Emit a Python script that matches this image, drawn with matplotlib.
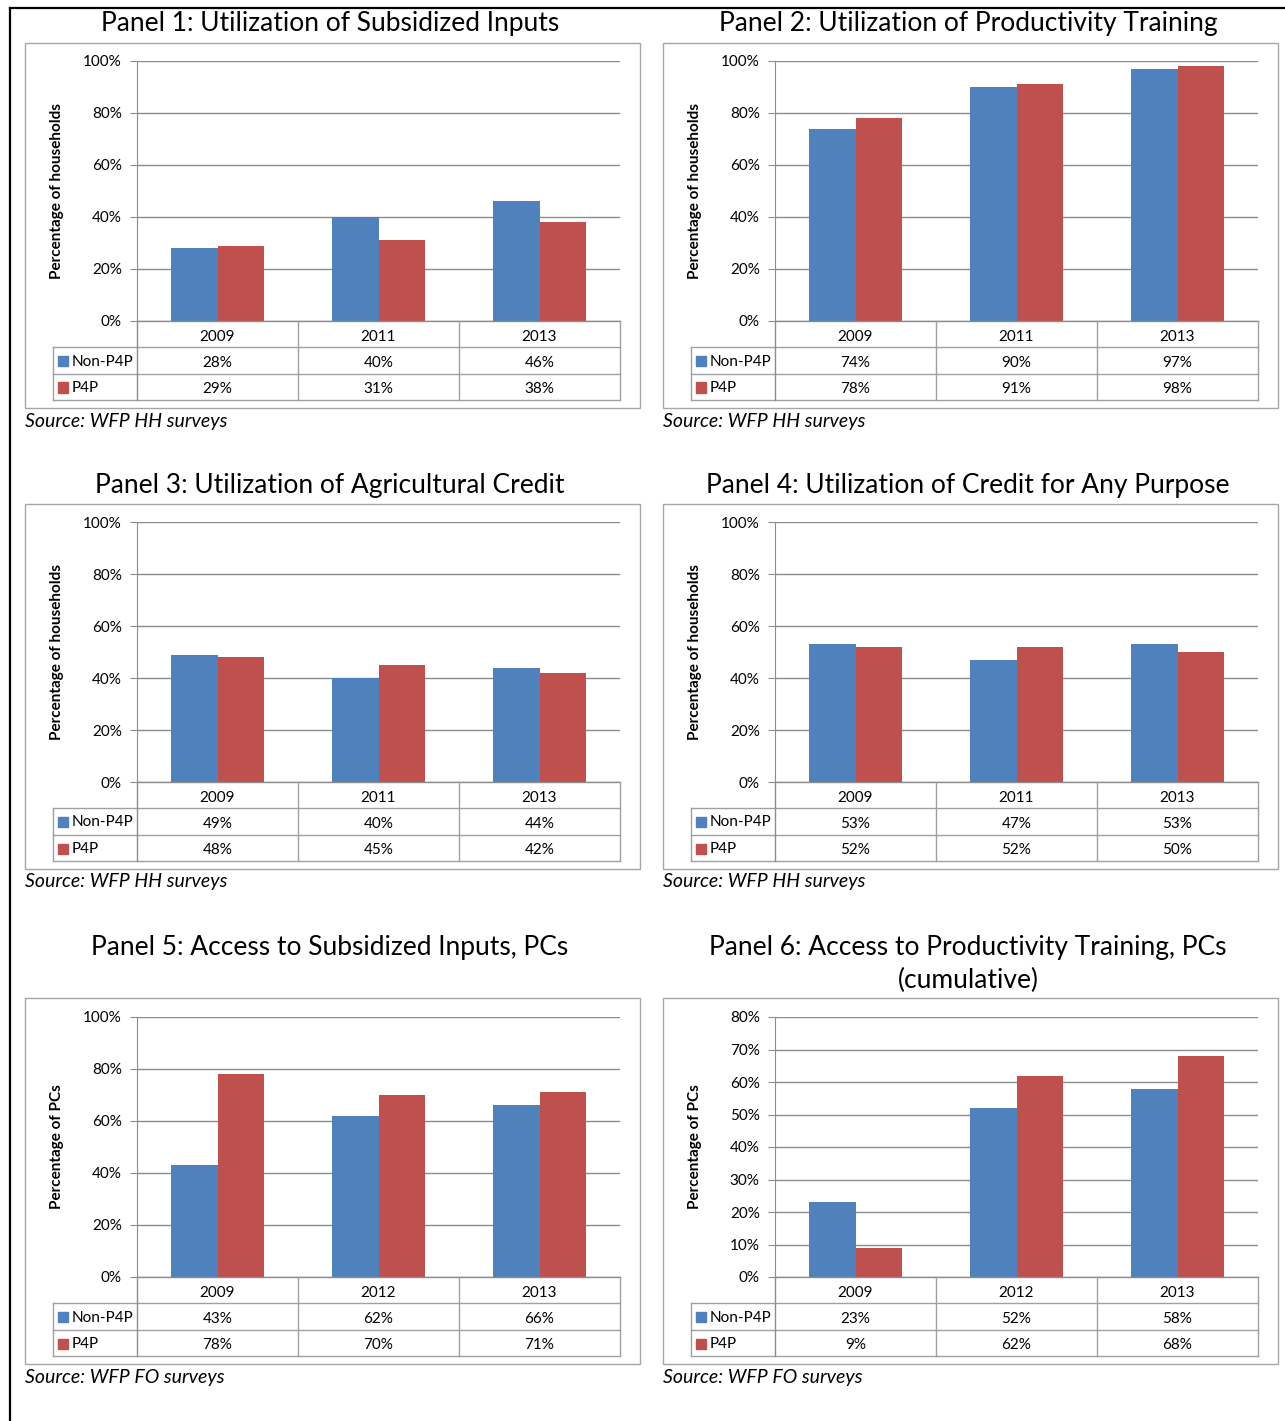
import matplotlib
matplotlib.use("Agg")
import matplotlib.pyplot as plt
from matplotlib.patches import Rectangle
from matplotlib.lines import Line2D

plt.rcParams["font.family"] = ["Lato", "DejaVu Sans"]

W, H = 1285, 1421

# panel data
titles = [
    "Panel 1: Utilization of Subsidized Inputs",
    "Panel 2: Utilization of Productivity Training",
    "Panel 3: Utilization of Agricultural Credit",
    "Panel 4: Utilization of Credit for Any Purpose",
    "Panel 5: Access to Subsidized Inputs, PCs",
    "Panel 6: Access to Productivity Training, PCs\n(cumulative)",
]
years_hh = ["2009", "2011", "2013"]
years_fo = ["2009", "2012", "2013"]
non_p4p = [
    [28, 40, 46],
    [74, 90, 97],
    [49, 40, 44],
    [53, 47, 53],
    [43, 62, 66],
    [23, 52, 58],
]
p4p = [
    [29, 31, 38],
    [78, 91, 98],
    [48, 45, 42],
    [52, 52, 50],
    [78, 70, 71],
    [9, 62, 68],
]
ylabels = ["Percentage of households"] * 4 + ["Percentage of PCs"] * 2
sources = ["Source: WFP HH surveys"] * 4 + ["Source: WFP FO surveys"] * 2
ymax = [100, 100, 100, 100, 100, 80]
ystep = [20, 20, 20, 20, 20, 10]
series_names = ["Non-P4P", "P4P"]

BLUE = "#4F81BD"
RED = "#C0504D"
GRID = "#8C8C8C"
TBL = "#A0A0A0"
BOX = "#A6A6A6"

fig = plt.figure(figsize=(W / 100, H / 100), dpi=100)


def fx(x):
    return x / W


def fy(y):
    return 1 - y / H


def px_axes(x0, y0, x1, y1):
    return fig.add_axes([fx(x0), fy(y1), (x1 - x0) / W, (y1 - y0) / H])


# outer frame (left and top edges)
fig.add_artist(Line2D([fx(10), fx(10)], [fy(8), fy(H)], color="black", lw=1.6))
fig.add_artist(Line2D([fx(10), fx(W)], [fy(8), fy(8)], color="black", lw=1.6))

col_x = [0, 638]
row_y = [0, 461, 956]
title_y = [24, 24, 485, 485, 947, 964]

for i in range(6):
    dx = col_x[i % 2]
    dy = row_y[i // 2]
    years = years_hh if i < 4 else years_fo

    # chart box
    box_top = 43 + dy if i < 4 else 998
    fig.add_artist(Rectangle((fx(25 + dx), fy(408 + dy)), 615 / W,
                             (408 + dy - box_top) / H, fill=False,
                             edgecolor=BOX, lw=1.0))

    # title
    fig.text(fx(330 + dx), fy(title_y[i]), titles[i], ha="center",
             va="center", fontsize=19, linespacing=1.4)

    # source note
    fig.text(fx(25 + dx), fy(421 + dy), sources[i], ha="left", va="center",
             fontsize=14, style="italic")

    # bar area
    ax = px_axes(137 + dx, 61 + dy, 620 + dx, 321 + dy)
    xs = range(len(years))
    bw = 0.286
    ax.bar([x - bw / 2 for x in xs], non_p4p[i], width=bw, color=BLUE,
           zorder=3)
    ax.bar([x + bw / 2 for x in xs], p4p[i], width=bw, color=RED, zorder=3)
    ax.set_xlim(-0.5, 2.5)
    ax.set_ylim(0, ymax[i])
    ticks = list(range(0, ymax[i] + 1, ystep[i]))
    ax.set_yticks(ticks)
    ax.set_yticklabels([f"{t}%" for t in ticks], fontsize=11)
    ax.set_xticks([])
    ax.yaxis.grid(True, color=GRID, lw=1.0, zorder=0)
    ax.set_axisbelow(True)
    for s in ["top", "right", "bottom"]:
        ax.spines[s].set_visible(False)
    ax.spines["left"].set_color(GRID)
    ax.tick_params(axis="y", length=5, color=GRID, pad=6)
    ax.axhline(0, color=GRID, lw=1.0, zorder=4, clip_on=False)
    ax.set_ylabel(ylabels[i], fontsize=11, fontweight="bold")
    ax.yaxis.set_label_coords(-(137 - 64) / 483, 0.5)

    # data table
    leg_w = (137 - 53) / 161
    tx = px_axes(53 + dx, 321 + dy, 620 + dx, 400 + dy)
    tx.set_xlim(-0.5 - leg_w, 2.5)
    tx.set_ylim(3, 0)
    tx.axis("off")
    xl = -0.5 - leg_w
    lk = dict(color=TBL, lw=1.0, clip_on=False)
    for yy in (1, 2, 3):
        tx.plot([xl, 2.5], [yy, yy], **lk)
    tx.plot([xl, xl], [1, 3], **lk)
    tx.plot([-0.5, -0.5], [0, 3], color=GRID, lw=1.0, clip_on=False)
    for xx in (0.5, 1.5, 2.5):
        tx.plot([xx, xx], [0, 3], **lk)
    for j, yr in enumerate(years):
        tx.text(j, 0.6, yr, ha="center", va="center", fontsize=11)
        tx.text(j, 1.6, f"{non_p4p[i][j]}%", ha="center", va="center",
                fontsize=11)
        tx.text(j, 2.6, f"{p4p[i][j]}%", ha="center", va="center",
                fontsize=11)
    for k, (name, c) in enumerate(zip(series_names, [BLUE, RED])):
        fig.add_artist(Rectangle((fx(58 + dx), fy(366 + dy + 26.5 * k)),
                                 10 / W, 10 / H, color=c))
        fig.text(fx(72 + dx), fy(361.5 + dy + 26.5 * k), name, ha="left",
                 va="center", fontsize=11)

fig.savefig("out.png", dpi=100)
